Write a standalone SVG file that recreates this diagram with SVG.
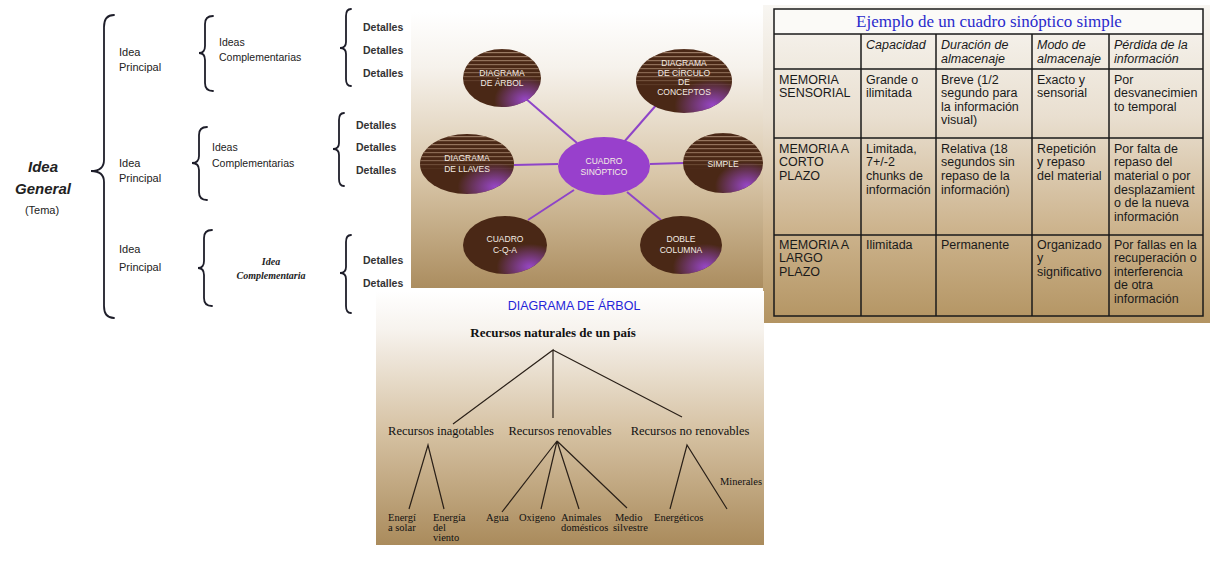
<svg xmlns="http://www.w3.org/2000/svg" width="1218" height="576" viewBox="0 0 1218 576">
<defs>
<style>
.br{fill:none;stroke:#1e1e2a;stroke-width:1.8;stroke-linecap:round}
.cs{font-family:"Liberation Sans",Arial,sans-serif;fill:#222}
.det{font-family:"Liberation Sans",Arial,sans-serif;font-weight:bold;font-size:10.5px;fill:#333}
.bub{fill:#4a2816}
.stp{fill:url(#stripes)}
.glw{fill:url(#glow)}
.bt{font-family:"Liberation Sans",Arial,sans-serif;font-size:8.5px;fill:#f4ece4;text-anchor:middle}
.con{stroke:#8e44c8;stroke-width:2;fill:none}
.tl{stroke:#2a2018;stroke-width:1.2;fill:none}
.tg{stroke:#1a1a1a;stroke-width:1.5;fill:none}
.tc{font-family:"Liberation Sans",Arial,sans-serif;font-size:12.5px;fill:#1a1a1a}
.th{font-family:"Liberation Sans",Arial,sans-serif;font-size:12.5px;font-style:italic;fill:#1a1a1a}
.t2{font-family:"Liberation Serif","Times New Roman",serif;font-size:12.5px;fill:#111;text-anchor:middle}
.t3{font-family:"Liberation Serif","Times New Roman",serif;font-size:10.5px;fill:#111}
</style>
<linearGradient id="bgB" x1="0" y1="0" x2="0" y2="1">
<stop offset="0" stop-color="#ffffff"/><stop offset="0.2" stop-color="#f6f2ec"/><stop offset="0.6" stop-color="#d8c5a7"/><stop offset="1" stop-color="#ab8d5f"/>
</linearGradient>
<linearGradient id="bgC" x1="0" y1="0" x2="0" y2="1">
<stop offset="0" stop-color="#f8f6f2"/><stop offset="0.35" stop-color="#e9dfd0"/><stop offset="0.7" stop-color="#cdb48e"/><stop offset="1" stop-color="#b39462"/>
</linearGradient>
<linearGradient id="bgD" x1="0" y1="0" x2="0" y2="1">
<stop offset="0" stop-color="#ffffff"/><stop offset="0.15" stop-color="#f7f3ee"/><stop offset="0.55" stop-color="#d6c2a3"/><stop offset="1" stop-color="#aa8b5c"/>
</linearGradient>
<pattern id="stripes" width="6" height="4" patternUnits="userSpaceOnUse">
<rect width="6" height="1.2" fill="#a88870"/>
</pattern>
<linearGradient id="fadeG" x1="0" y1="0" x2="0" y2="1">
<stop offset="0" stop-color="#fff" stop-opacity="0.9"/><stop offset="0.45" stop-color="#fff" stop-opacity="0.6"/><stop offset="0.6" stop-color="#fff" stop-opacity="0"/>
</linearGradient>
<mask id="fade" maskContentUnits="objectBoundingBox"><rect width="1" height="1" fill="url(#fadeG)"/></mask>
<radialGradient id="glow" cx="0.8" cy="0.88" r="0.4">
<stop offset="0" stop-color="#9b48d0" stop-opacity="0.95"/><stop offset="1" stop-color="#9b48d0" stop-opacity="0"/>
</radialGradient>
</defs>
<rect width="1218" height="576" fill="#ffffff"/>

<!-- Panel A: llaves -->
<g id="panelA">
<g id="idea-general">
<text class="cs" x="43" y="172" font-size="15" font-weight="bold" font-style="italic" text-anchor="middle" fill="#111">Idea</text>
<text class="cs" x="43" y="194" font-size="15" font-weight="bold" font-style="italic" text-anchor="middle" fill="#111">General</text>
<text class="cs" x="42" y="214" font-size="11" text-anchor="middle">(Tema)</text>
</g>
<g id="braces">
<path class="br" d="M114,15 Q104,15 104,27 L104,160 Q104,171 91,171 Q104,171 104,182 L104,306 Q104,318 114,318"/>
<path class="br" d="M213,16 Q205,16 205,24 L205,46 Q205,53 199,53 Q205,53 205,60 L205,83 Q205,91 213,91"/>
<path class="br" d="M207,127 Q199,127 199,135 L199,156 Q199,163 192,163 Q199,163 199,170 L199,192 Q199,200 207,200"/>
<path class="br" d="M212,230 Q204,230 204,238 L204,261 Q204,268 198,268 Q204,268 204,275 L204,298 Q204,306 212,306"/>
<path class="br" d="M351,9 Q346,9 346,16 L346,42 Q346,48 340,48 Q346,48 346,54 L346,79 Q346,86 351,86"/>
<path class="br" d="M344,113 Q339,113 339,120 L339,143 Q339,149 333,149 Q339,149 339,155 L339,179 Q339,186 344,186"/>
<path class="br" d="M351,235 Q346,235 346,242 L346,267 Q346,273 340,273 Q346,273 346,279 L346,306 Q346,313 351,313"/>
</g>
<g id="idea-principal-1"><text class="cs" x="119" y="56" font-size="11">Idea</text><text class="cs" x="119" y="71" font-size="11">Principal</text></g>
<g id="idea-principal-2"><text class="cs" x="119" y="167" font-size="11">Idea</text><text class="cs" x="119" y="182" font-size="11">Principal</text></g>
<g id="idea-principal-3"><text class="cs" x="119" y="253" font-size="11">Idea</text><text class="cs" x="119" y="271" font-size="11">Principal</text></g>
<g id="ideas-comp-1"><text class="cs" x="219" y="46" font-size="10.5">Ideas</text><text class="cs" x="219" y="61" font-size="10.5">Complementarias</text></g>
<g id="ideas-comp-2"><text class="cs" x="212" y="151" font-size="10.5">Ideas</text><text class="cs" x="212" y="167" font-size="10.5">Complementarias</text></g>
<g id="idea-comp-3" font-family="'Liberation Serif','Times New Roman',serif" font-size="10" font-weight="bold" font-style="italic" fill="#222" text-anchor="middle"><text x="271" y="265">Idea</text><text x="271" y="279">Complementaria</text></g>
<g id="detalles-1"><text class="det" x="363" y="31">Detalles</text><text class="det" x="363" y="54">Detalles</text><text class="det" x="363" y="77">Detalles</text></g>
<g id="detalles-2"><text class="det" x="356" y="129">Detalles</text><text class="det" x="356" y="151">Detalles</text><text class="det" x="356" y="174">Detalles</text></g>
<g id="detalles-3"><text class="det" x="363" y="264">Detalles</text><text class="det" x="363" y="287">Detalles</text></g>
</g>

<!-- Panel B: bubbles -->
<rect x="411" y="12" width="352" height="276" fill="url(#bgB)"/>
<g id="connectors">
<line class="con" x1="525" y1="98" x2="577" y2="143"/>
<line class="con" x1="658" y1="103" x2="624" y2="142"/>
<line class="con" x1="514" y1="165" x2="558" y2="164"/>
<line class="con" x1="650" y1="164" x2="684" y2="163"/>
<line class="con" x1="528" y1="220" x2="574" y2="190"/>
<line class="con" x1="627" y1="192" x2="661" y2="220"/>
</g>
<g id="n-arbol">
<ellipse class="bub" cx="502" cy="78" rx="39" ry="29"/>
<ellipse class="stp" cx="502" cy="78" rx="39" ry="29" mask="url(#fade)"/>
<ellipse class="glw" cx="502" cy="78" rx="39" ry="29"/>
<text class="bt" x="502" y="76">DIAGRAMA</text><text class="bt" x="502" y="86">DE ÁRBOL</text>
</g>
<g id="n-circulo">
<ellipse class="bub" cx="684" cy="81" rx="48" ry="32"/>
<ellipse class="stp" cx="684" cy="81" rx="48" ry="32" mask="url(#fade)"/>
<ellipse class="glw" cx="684" cy="81" rx="48" ry="32"/>
<text class="bt" x="684" y="66">DIAGRAMA</text><text class="bt" x="684" y="76">DE CÍRCULO</text><text class="bt" x="684" y="85">DE</text><text class="bt" x="684" y="95">CONCEPTOS</text>
</g>
<g id="n-llaves">
<ellipse class="bub" cx="467" cy="164" rx="47" ry="30"/>
<ellipse class="stp" cx="467" cy="164" rx="47" ry="30" mask="url(#fade)"/>
<ellipse class="glw" cx="467" cy="164" rx="47" ry="30"/>
<text class="bt" x="467" y="161">DIAGRAMA</text><text class="bt" x="467" y="172">DE LLAVES</text>
</g>
<g id="n-cuadro">
<ellipse cx="604" cy="166" rx="46" ry="29" fill="#9840cc"/>
<text class="bt" x="604" y="164" font-size="9">CUADRO</text><text class="bt" x="604" y="175" font-size="9">SINÓPTICO</text>
</g>
<g id="n-simple">
<ellipse class="bub" cx="723" cy="163" rx="40" ry="30"/>
<ellipse class="stp" cx="723" cy="163" rx="40" ry="30" mask="url(#fade)"/>
<ellipse class="glw" cx="723" cy="163" rx="40" ry="30"/>
<text class="bt" x="723" y="167">SIMPLE</text>
</g>
<g id="n-cqa">
<ellipse class="bub" cx="505" cy="245" rx="42" ry="29"/>
<ellipse class="glw" cx="505" cy="245" rx="42" ry="29"/>
<text class="bt" x="505" y="242">CUADRO</text><text class="bt" x="505" y="253">C-Q-A</text>
</g>
<g id="n-doble">
<ellipse class="bub" cx="681" cy="245" rx="41" ry="29"/>
<ellipse class="glw" cx="681" cy="245" rx="41" ry="29"/>
<text class="bt" x="681" y="242">DOBLE</text><text class="bt" x="681" y="253">COLUMNA</text>
</g>

<!-- Panel C: table -->
<g id="table">
<rect x="763" y="5" width="447" height="318" fill="url(#bgC)"/>
<rect x="774" y="9" width="429" height="25" fill="#fbfaf7"/>
<g class="tg">
<rect x="774" y="9" width="429" height="307"/>
<line x1="774" y1="34" x2="1203" y2="34"/>
<line x1="774" y1="69" x2="1203" y2="69"/>
<line x1="774" y1="138" x2="1203" y2="138"/>
<line x1="774" y1="235" x2="1203" y2="235"/>
<line x1="861" y1="34" x2="861" y2="316"/>
<line x1="936" y1="34" x2="936" y2="316"/>
<line x1="1032" y1="34" x2="1032" y2="316"/>
<line x1="1109" y1="34" x2="1109" y2="316"/>
</g>
<text x="989" y="27" font-family="'Liberation Serif','Times New Roman',serif" font-size="17" fill="#2a2acc" text-anchor="middle">Ejemplo de un cuadro sinóptico simple</text>
<text class="th" x="866" y="49">Capacidad</text>
<text class="th" x="941" y="49">Duración de</text><text class="th" x="941" y="63">almacenaje</text>
<text class="th" x="1037" y="49">Modo de</text><text class="th" x="1037" y="63">almacenaje</text>
<text class="th" x="1114" y="49">Pérdida de la</text><text class="th" x="1114" y="63">información</text>

<text class="tc" x="779" y="84">MEMORIA</text><text class="tc" x="779" y="97">SENSORIAL</text>
<text class="tc" x="866" y="84">Grande o</text><text class="tc" x="866" y="97">ilimitada</text>
<text class="tc" x="941" y="84">Breve (1/2</text><text class="tc" x="941" y="97">segundo para</text><text class="tc" x="941" y="111">la información</text><text class="tc" x="941" y="124">visual)</text>
<text class="tc" x="1037" y="84">Exacto y</text><text class="tc" x="1037" y="97">sensorial</text>
<text class="tc" x="1114" y="84">Por</text><text class="tc" x="1114" y="97">desvanecimien</text><text class="tc" x="1114" y="111">to temporal</text>

<text class="tc" x="779" y="153">MEMORIA A</text><text class="tc" x="779" y="166">CORTO</text><text class="tc" x="779" y="180">PLAZO</text>
<text class="tc" x="866" y="153">Limitada,</text><text class="tc" x="866" y="166">7+/-2</text><text class="tc" x="866" y="180">chunks de</text><text class="tc" x="866" y="194">información</text>
<text class="tc" x="941" y="153">Relativa (18</text><text class="tc" x="941" y="166">segundos sin</text><text class="tc" x="941" y="180">repaso de la</text><text class="tc" x="941" y="194">información)</text>
<text class="tc" x="1037" y="153">Repetición</text><text class="tc" x="1037" y="166">y repaso</text><text class="tc" x="1037" y="180">del material</text>
<text class="tc" x="1114" y="153">Por falta de</text><text class="tc" x="1114" y="166">repaso del</text><text class="tc" x="1114" y="180">material o por</text><text class="tc" x="1114" y="194">desplazamient</text><text class="tc" x="1114" y="207">o de la nueva</text><text class="tc" x="1114" y="221">información</text>

<text class="tc" x="779" y="249">MEMORIA A</text><text class="tc" x="779" y="262">LARGO</text><text class="tc" x="779" y="276">PLAZO</text>
<text class="tc" x="866" y="249">Ilimitada</text>
<text class="tc" x="941" y="249">Permanente</text>
<text class="tc" x="1037" y="249">Organizado</text><text class="tc" x="1037" y="262">y</text><text class="tc" x="1037" y="276">significativo</text>
<text class="tc" x="1114" y="249">Por fallas en la</text><text class="tc" x="1114" y="262">recuperación o</text><text class="tc" x="1114" y="276">interferencia</text><text class="tc" x="1114" y="289">de otra</text><text class="tc" x="1114" y="303">información</text>
</g>

<!-- Panel D: tree -->
<g id="tree">
<rect x="376" y="291" width="388" height="254" fill="url(#bgD)"/>
<text x="574" y="310" font-family="'Liberation Sans',Arial,sans-serif" font-size="12.5" fill="#2424d8" text-anchor="middle">DIAGRAMA DE ÁRBOL</text>
<g id="t-root"><text x="553" y="337" font-family="'Liberation Serif','Times New Roman',serif" font-size="13" font-weight="bold" fill="#111" text-anchor="middle">Recursos naturales de un país</text></g>
<g id="tree-lines">
<path class="tl" d="M453,424 L553,350 L553,418 M553,350 L682,417"/>
<path class="tl" d="M409,509 L428,445 L444,509"/>
<path class="tl" d="M502,512 L557,441 L541,509 M557,441 L579,509 M557,441 L627,508"/>
<path class="tl" d="M670,509 L687,445 L727,509"/>
</g>
<g id="t-inag"><text class="t2" x="441" y="435">Recursos inagotables</text></g>
<g id="t-renov"><text class="t2" x="560" y="435">Recursos renovables</text></g>
<g id="t-norenov"><text class="t2" x="690" y="435">Recursos no renovables</text></g>
<g id="t-solar"><text class="t3" x="388" y="521">Energí</text><text class="t3" x="388" y="531">a solar</text></g>
<g id="t-viento"><text class="t3" x="433" y="521">Energía</text><text class="t3" x="433" y="531">del</text><text class="t3" x="433" y="541">viento</text></g>
<g id="t-agua"><text class="t3" x="486" y="521">Agua</text></g>
<g id="t-oxigeno"><text class="t3" x="519" y="521">Oxigeno</text></g>
<g id="t-animales"><text class="t3" x="561" y="521">Animales</text><text class="t3" x="561" y="531">domésticos</text></g>
<g id="t-medio"><text class="t3" x="615" y="521">Medio</text><text class="t3" x="613" y="531">silvestre</text></g>
<g id="t-energeticos"><text class="t3" x="654" y="521">Energéticos</text></g>
<g id="t-minerales"><text class="t3" x="720" y="485">Minerales</text></g>
</g>
</svg>
